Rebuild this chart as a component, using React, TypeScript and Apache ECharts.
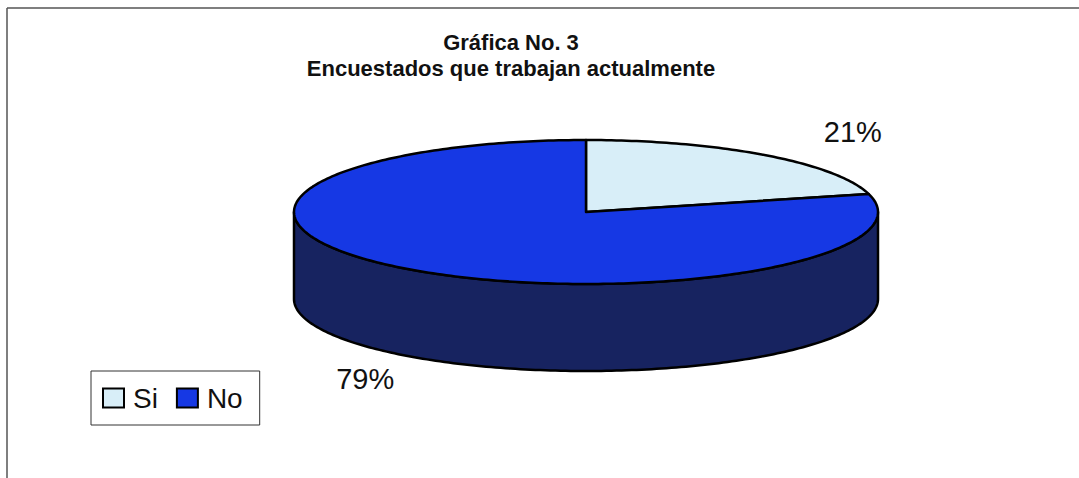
import React, { useEffect, useRef } from "react";
import * as echarts from "echarts";

const categories = ["Si", "No"];
const values = [21, 79];
const topColors = ["#d8eef8", "#1638e4"];
const sideColors = ["#9fb8c4", "#172360"];
const titleLines = ["Gráfica No. 3", "Encuestados que trabajan actualmente"];

const FONT = '"Liberation Sans", Arial, sans-serif';

// pie geometry (layout, not data)
const CX = 586;
const CY = 212;
const RX = 292;
const RY = 72;
const DEPTH = 87;

function pt(deg: number, dy = 0): number[] {
  const r = (deg * Math.PI) / 180;
  return [CX + RX * Math.sin(r), CY - RY * Math.cos(r) + dy];
}

function makeRender(i: number) {
  return (_params: any, _api: any) => {
    const total = values.reduce((a, b) => a + b, 0);
    const before = values.slice(0, i).reduce((a, b) => a + b, 0);
    const a0 = (before / total) * 360;
    const a1 = ((before + values[i]) / total) * 360;
    const children: any[] = [];

    // side wall (front half only: 90..270 deg clockwise from top)
    const s = Math.max(a0, 90);
    const e = Math.min(a1, 270);
    if (e > s) {
      const pts: number[][] = [];
      for (let t = s; t < e; t += 1) pts.push(pt(t));
      pts.push(pt(e));
      const bottom: number[][] = [];
      for (let t = s; t < e; t += 1) bottom.push(pt(t, DEPTH));
      bottom.push(pt(e, DEPTH));
      bottom.reverse();
      children.push({
        type: "polygon",
        shape: { points: pts.concat(bottom) },
        style: { fill: sideColors[i], stroke: "#000", lineWidth: 2.5, lineJoin: "round" },
      });
    }

    // top face
    const top: number[][] = [[CX, CY]];
    for (let t = a0; t < a1; t += 1) top.push(pt(t));
    top.push(pt(a1));
    children.push({
      type: "polygon",
      shape: { points: top },
      style: { fill: topColors[i], stroke: "#000", lineWidth: 2.5, lineJoin: "round" },
    });

    // percentage label
    const mid = ((a0 + a1) / 2) * (Math.PI / 180);
    const sn = Math.sin(mid);
    const cs = Math.cos(mid);
    const lx = CX + RX * sn * 1.2 + 23;
    const ly = CY - RY * cs * 1.4 + (cs < 0 ? DEPTH : 0);
    const pct = Math.round((values[i] / total) * 100);
    children.push({
      type: "text",
      style: {
        text: pct + "%",
        x: lx,
        y: ly,
        align: sn >= 0 ? "left" : "right",
        verticalAlign: "middle",
        font: `29px ${FONT}`,
        fill: "#111",
      },
    });

    return { type: "group", children };
  };
}

export default function App() {
  const ref = useRef<HTMLDivElement>(null);

  useEffect(() => {
    if (!ref.current) return;
    const chart = echarts.init(ref.current, null, { renderer: "svg" });
    chart.setOption({
      animation: false,
      backgroundColor: "#ffffff",
      legend: {
        data: categories,
        left: 91,
        top: 371,
        orient: "horizontal",
        icon: "rect",
        itemWidth: 21,
        itemHeight: 19,
        itemGap: 18,
        padding: [13, 17, 13, 11],
        borderColor: "#333",
        borderWidth: 1,
        selectedMode: false,
        textStyle: {
          fontFamily: FONT,
          fontSize: 28,
          color: "#111",
          padding: [0, 0, 0, 4],
          lineHeight: 28,
        },
      },
      graphic: [
        {
          type: "line",
          shape: { x1: 7, y1: 8, x2: 1079, y2: 8 },
          style: { stroke: "#555", lineWidth: 1.5 },
        },
        {
          type: "line",
          shape: { x1: 7, y1: 8, x2: 7, y2: 478 },
          style: { stroke: "#555", lineWidth: 1.5 },
        },
        {
          type: "text",
          style: {
            text: titleLines.join("\n"),
            x: 511,
            y: 29,
            align: "center",
            font: `bold 22px ${FONT}`,
            lineHeight: 26,
            fill: "#111",
          },
        },
      ],
      series: categories.map((name, i) => ({
        type: "custom",
        name,
        coordinateSystem: "none",
        data: [values[i]],
        itemStyle: { color: topColors[i], borderColor: "#000", borderWidth: 2 },
        renderItem: makeRender(i),
      })),
    });
    return () => chart.dispose();
  }, []);

  return (
    <div
      ref={ref}
      style={{ position: "fixed", left: 0, top: 0, width: 1079, height: 478 }}
    />
  );
}
